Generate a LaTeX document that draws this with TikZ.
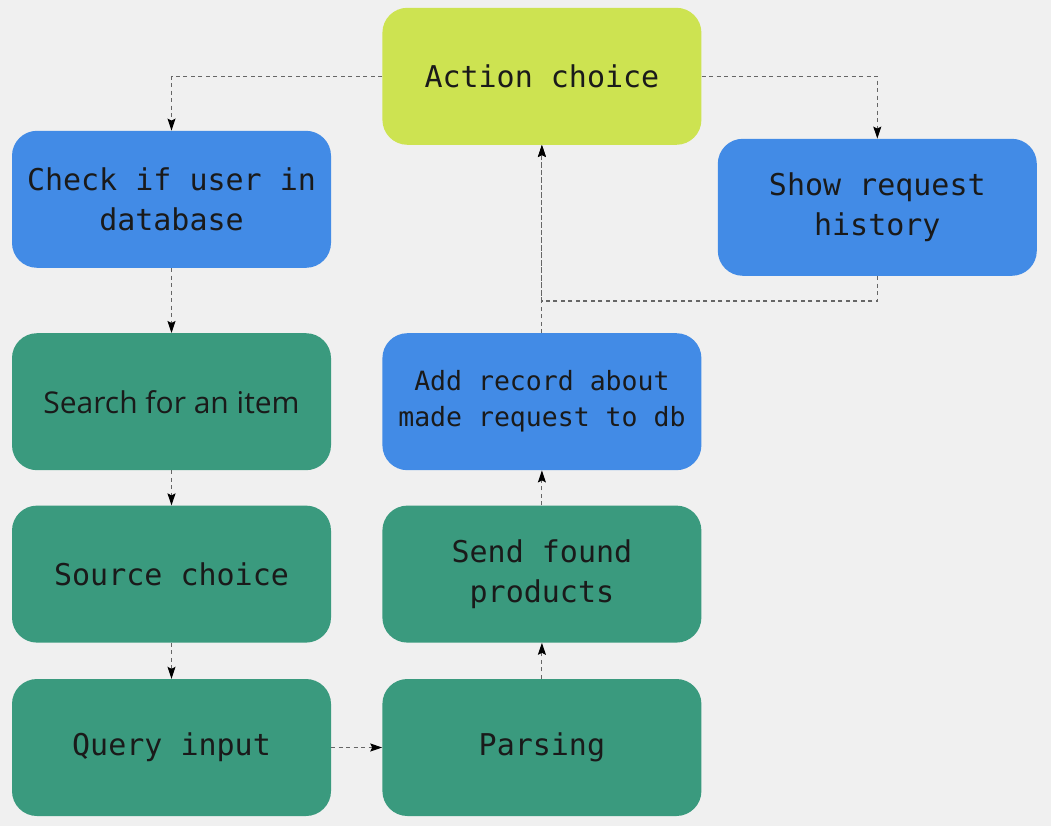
\documentclass[tikz,border=0pt]{standalone}
\usepackage{fontspec}
\setmainfont{DejaVu Sans Mono}
\newfontfamily\itemfont{Open Sans}
\usepackage{tikz}
\usetikzlibrary{positioning}
\usetikzlibrary{arrows.meta}
\usepackage{xcolor}

\definecolor{bgcol}{HTML}{F0F0F0}
\definecolor{limecol}{HTML}{CDE351}
\definecolor{bluecol}{HTML}{428BE6}
\definecolor{greencol}{HTML}{3A9A7E}
\definecolor{txtcol}{HTML}{1A1A1A}

\tikzset{
  box/.style={rectangle, rounded corners=25pt, minimum width=319pt, minimum height=137pt,
    align=center, text=txtcol, font=\fontsize{30}{40}\selectfont, inner sep=0pt},
  choicebox/.style={box, fill=limecol},
  dbbox/.style={box, fill=bluecol},
  workbox/.style={box, fill=greencol},
  flow/.style={draw=black!60, line width=1.1pt, dash pattern=on 4pt off 3.5pt,
    -{Stealth[black, length=12pt, width=8pt, inset=2pt]}},
}

\begin{document}
\begin{tikzpicture}[x=1pt, y=1pt, node distance=35pt]
	\useasboundingbox[fill=bgcol] (0,0) rectangle (1051,-826);

	\node[workbox] at (171.5,-747.5) (query){Query input};
	\node[workbox, above=36pt of query](source){Source choice};
	\node[workbox, above= of source](search){\itemfont Search for an item};
	\node[dbbox, above=65pt of search](check){Check if user in\\database};

	\node[workbox, right=51pt of query](parse){Parsing};
	\node[workbox, above=36pt of parse](send){Send found\\products};
	\node[dbbox, above= of send, font=\fontsize{26.5}{36}\selectfont](add_rec){Add record about\\made request to db};
	\node[choicebox, above=188pt of add_rec](act){Action choice};
	\node[dbbox, right=16pt of act, yshift=-131pt](show){Show request\\history};

	\draw[flow] (act.west) -| (check.north);
	\draw[flow] (act.east) -| (show.north);
	\draw[flow] (check) -- (search);
	\draw[flow] (search) -- (source);
	\draw[flow] (source) -- (query);
	\draw[flow] (query) -- (parse);
	\draw[flow] (parse) -- (send);
	\draw[flow] (send) -- (add_rec);
	\draw[flow] (add_rec) -- (act);
	\draw[flow] (show.south) -- ++(0,-25) -| (act.south);
\end{tikzpicture}
\end{document}
